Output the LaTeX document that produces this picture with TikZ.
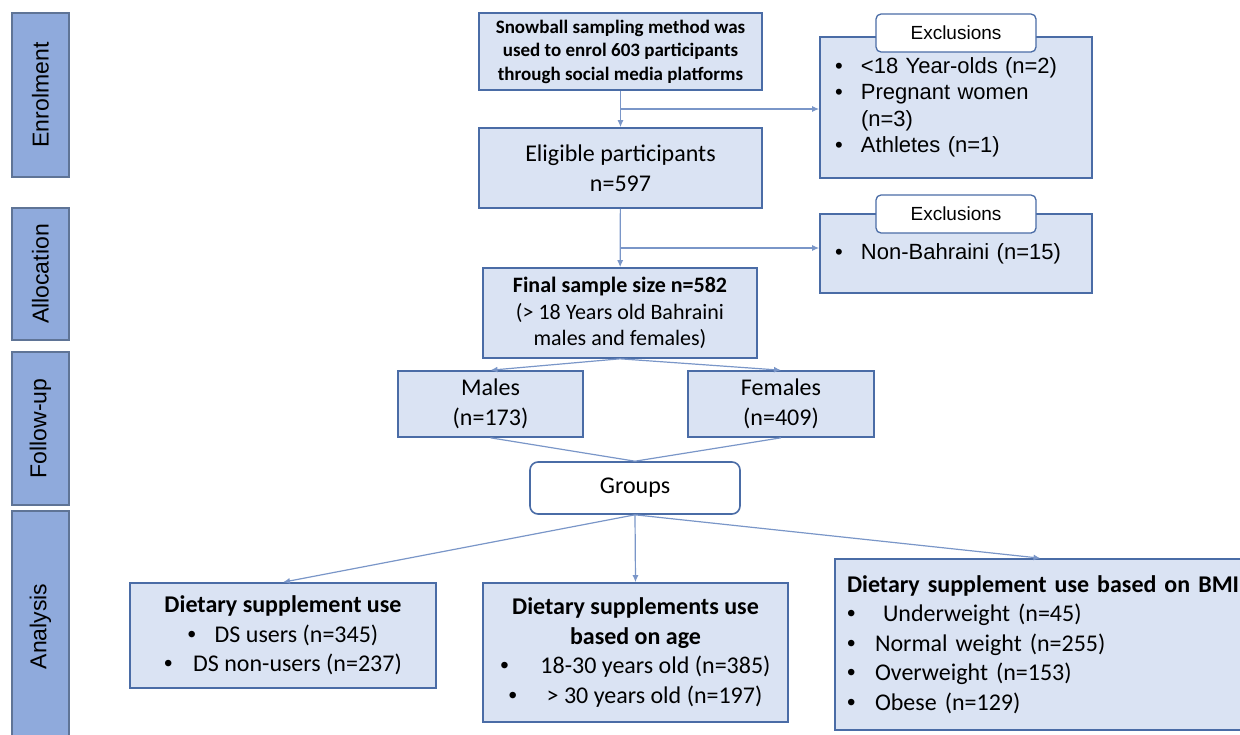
\documentclass[tikz,border=0pt]{standalone}
\usepackage{fontspec}
\setmainfont{Carlito}
\newfontfamily\arialfont{Liberation Sans}
\usetikzlibrary{arrows.meta}
\definecolor{boxfill}{HTML}{DAE3F3}
\definecolor{boxline}{HTML}{4A6CA6}
\definecolor{barfill}{HTML}{8FAADC}
\definecolor{barline}{HTML}{5F7496}
\definecolor{linkcol}{HTML}{7A96C8}
\newcommand{\blt}[1][26pt]{\makebox[#1][l]{\arialfont\textbullet}}

\begin{document}
\begin{tikzpicture}[x=1pt,y=-1pt,>={Latex[length=7pt,width=6pt]},
  stage/.style={draw=barline, fill=barfill, line width=1.3pt, rotate=90, inner sep=0pt, font=\arialfont\fontsize{23}{28}\selectfont},
  flowbox/.style={draw=boxline, fill=boxfill, line width=1.6pt, align=center, inner sep=0pt, font=\fontsize{24}{29.5}\selectfont},
  exclbox/.style={flowbox, align=left, inner xsep=15pt, text width=242pt, font=\arialfont\fontsize{22}{26.5}\selectfont},
  tagbox/.style={draw=boxline, fill=white, line width=1.3pt, rounded corners=5pt, inner sep=0pt, minimum width=160pt, minimum height=38pt, font=\arialfont\fontsize{19}{23}\selectfont},
  link/.style={draw=linkcol, line width=1.2pt}]
\useasboundingbox (0,0) rectangle (1240,734);

% stages
\node[stage, minimum width=164pt, minimum height=57pt] (enrol) at (40.5,95) {Enrolment};
\node[stage, minimum width=132pt, minimum height=57pt] (alloc) at (40.5,274) {Allocation};
\node[stage, minimum width=153pt, minimum height=57pt] (follow) at (40.5,428.5) {Follow-up};
\node[stage, minimum width=231pt, minimum height=57pt] (analysis) at (40.5,626.5) {Analysis};

% main flow
\node[flowbox, minimum width=283pt, minimum height=77pt, font=\bfseries\fontsize{19}{23.5}\selectfont] (snow) at (620.5,51.5)
  {Snowball sampling method was\\used to enrol 603 participants\\through social media platforms};
\node[flowbox, minimum width=283pt, minimum height=80pt] (elig) at (620.5,168) {Eligible participants\\n=597};
\node[flowbox, minimum width=274pt, minimum height=90pt, font=\fontsize{22}{26.5}\selectfont] (final) at (620,313)
  {\textbf{Final sample size n=582}\\(> 18 Years old Bahraini\\males and females)};
\node[flowbox, minimum width=185pt, minimum height=66pt] (males) at (490.5,404) {Males\\(n=173)};
\node[flowbox, minimum width=186pt, minimum height=66pt] (females) at (781,404) {Females\\(n=409)};
\node[flowbox, fill=white, rounded corners=8pt, minimum width=210pt, minimum height=52pt] (groups) at (635,488) {Groups};

% exclusions
\node[exclbox, minimum height=141pt] (excl1) at (956,107.5)
  {\blt<18 Year-olds (n=2)\\\blt Pregnant women\\\hspace*{26pt}(n=3)\\\blt Athletes (n=1)};
\node[tagbox] (excltag1) at (956,33) {Exclusions};
\node[exclbox, minimum height=79pt] (excl2) at (956,253.5) {\blt Non-Bahraini (n=15)};
\node[tagbox] (excltag2) at (956,214) {Exclusions};

% analysis groups
\node[flowbox, minimum width=306pt, minimum height=105pt] (dsuse) at (283,635.5)
  {\textbf{Dietary supplement use}\\\blt[27pt]DS users (n=345)\\\blt[29pt]DS non-users (n=237)};
\node[flowbox, minimum width=305pt, minimum height=139pt] (age) at (635.5,652.5)
  {\textbf{Dietary supplements use}\\\textbf{based on age}\\\blt[40pt]18-30 years old (n=385)\\\blt[38pt]> 30 years old (n=197)};
\node[flowbox, align=left, inner xsep=12pt, text width=387pt, minimum height=171pt] (bmi) at (1040.5,644.5)
  {\mbox{\bfseries Dietary supplement use based on BMI}\\\blt[28pt] Underweight (n=45)\\\blt[28pt]Normal weight (n=255)\\\blt[28pt]Overweight (n=153)\\\blt[28pt]Obese (n=129)};

% connectors
\coordinate (split1) at (620.5,109);
\coordinate (split2) at (620.5,248);
\draw[link,->] (snow) -- (elig);
\draw[link,->] (split1) -- (split1 -| excl1.west);
\draw[link,->] (elig) -- (final);
\draw[link,->] (split2) -- (split2 -| excl2.west);
\draw[link,->] (final.south) -- (males.north);
\draw[link,->] (final.south) -- (females.north);
\draw[link] (males.south) -- (groups.north);
\draw[link] (females.south) -- (groups.north);
\draw[link,->] (groups.south) -- (dsuse.north);
\draw[link,->] (groups.south) -- (age.north);
\draw[link,->] (groups.south) -- (bmi.north);
\end{tikzpicture}
\end{document}
